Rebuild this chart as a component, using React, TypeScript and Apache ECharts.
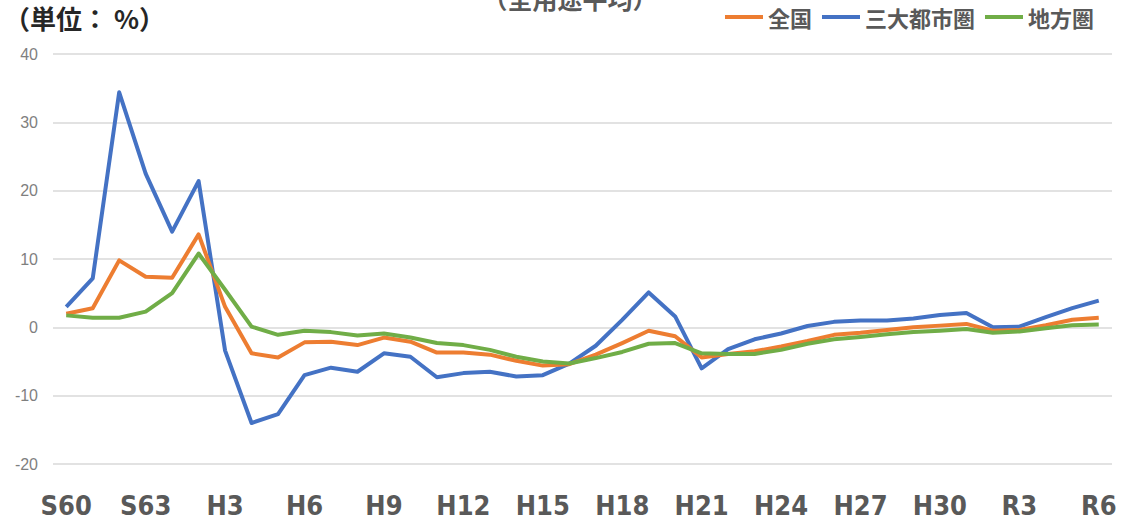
import React, { useEffect, useRef } from "react";
import * as echarts from "echarts";

const categories = [
  "S60", "S61", "S62", "S63",
  "H1", "H2", "H3", "H4", "H5", "H6", "H7", "H8", "H9", "H10",
  "H11", "H12", "H13", "H14", "H15", "H16", "H17", "H18", "H19", "H20",
  "H21", "H22", "H23", "H24", "H25", "H26", "H27", "H28", "H29", "H30",
  "R1", "R2", "R3", "R4", "R5", "R6",
];

const zenkoku = [
  2.0, 2.8, 9.8, 7.4,
  7.25, 13.6, 3.0, -3.8, -4.4, -2.2, -2.1, -2.6, -1.5, -2.1,
  -3.7, -3.7, -4.0, -4.9, -5.6, -5.4, -4.0, -2.3, -0.5, -1.3,
  -4.4, -3.9, -3.5, -2.8, -2.0, -1.1, -0.8, -0.4, 0.0, 0.25,
  0.5, -0.5, -0.4, 0.3, 1.1, 1.4,
];

const sandai = [
  3.0, 7.15, 34.4, 22.5,
  14.0, 21.4, -3.4, -14.0, -12.7, -7.0, -5.9, -6.5, -3.8, -4.3,
  -7.3, -6.7, -6.5, -7.2, -7.0, -5.3, -2.7, 1.1, 5.1, 1.6,
  -6.0, -3.2, -1.75, -0.9, 0.2, 0.8, 1.0, 1.0, 1.3, 1.8,
  2.1, 0.0, 0.1, 1.5, 2.8, 3.9,
];

const chiho = [
  1.75, 1.4, 1.4, 2.3,
  5.0, 10.8, 5.5, 0.1, -1.1, -0.5, -0.7, -1.2, -0.9, -1.5,
  -2.3, -2.6, -3.3, -4.3, -5.0, -5.3, -4.5, -3.6, -2.4, -2.3,
  -3.8, -3.9, -3.9, -3.3, -2.4, -1.75, -1.4, -1.0, -0.7, -0.5,
  -0.25, -0.8, -0.6, -0.15, 0.3, 0.4,
];

const seriesNames = ["全国", "三大都市圏", "地方圏"];
const seriesColors = ["#ED7D31", "#4472C4", "#70AD47"];
const yMin = -20;
const yMax = 40;
const yInterval = 10;

export default function App() {
  const ref = useRef<HTMLDivElement>(null);
  useEffect(() => {
    if (!ref.current) return;
    const chart = echarts.init(ref.current, null, { renderer: "svg" });
    const values = [zenkoku, sandai, chiho];
    chart.setOption({
      animation: false,
      backgroundColor: "#ffffff",
      grid: { left: 53, right: 14, top: 54, bottom: 57, containLabel: false },
      legend: {
        right: 27,
        top: 1,
        icon: "rect",
        itemWidth: 38,
        itemHeight: 4,
        itemGap: 10,
        data: seriesNames,
        textStyle: {
          color: "#595959",
          fontSize: 22,
          fontWeight: "bold",
          fontFamily: "'Noto Sans CJK JP', sans-serif",
        },
      },
      graphic: [
        {
          type: "text",
          x: 4,
          y: 4,
          style: {
            text: "（単位： %）",
            fill: "#262626",
            font: "bold 26px 'Noto Sans CJK JP', sans-serif",
            textAlign: "left",
            textVerticalAlign: "top",
          },
        },
        {
          type: "text",
          x: 570,
          y: 10,
          style: {
            text: "（全用途平均）",
            fill: "#595959",
            font: "bold 25px 'Noto Sans CJK JP', sans-serif",
            textAlign: "center",
            textVerticalAlign: "bottom",
          },
        },
      ],
      xAxis: {
        type: "category",
        data: categories,
        boundaryGap: true,
        axisLine: { show: false },
        axisTick: { show: false },
        axisLabel: {
          interval: 2,
          margin: 28,
          color: "#595959",
          fontSize: 27,
          fontWeight: "bold",
          fontFamily: "'DejaVu Sans Condensed', 'DejaVu Sans', sans-serif",
        },
        splitLine: { show: false },
      },
      yAxis: {
        type: "value",
        min: yMin,
        max: yMax,
        interval: yInterval,
        axisLine: { show: false },
        axisTick: { show: false },
        axisLabel: {
          margin: 15,
          color: "#7f7f7f",
          fontSize: 16,
          fontFamily: "'Liberation Sans', Arial, sans-serif",
        },
        splitLine: { lineStyle: { color: "#d9d9d9", width: 1.5 } },
      },
      series: seriesNames.map((name, k) => ({
        name,
        type: "line",
        data: values[k],
        showSymbol: false,
        symbol: "none",
        lineStyle: { color: seriesColors[k], width: 4, join: "round" },
        itemStyle: { color: seriesColors[k] },
        z: k === 0 ? 3 : k === 1 ? 2 : 4,
      })),
    });
    return () => chart.dispose();
  }, []);
  return (
    <div
      ref={ref}
      style={{ position: "fixed", left: 0, top: 0, width: 1126, height: 521 }}
    />
  );
}
